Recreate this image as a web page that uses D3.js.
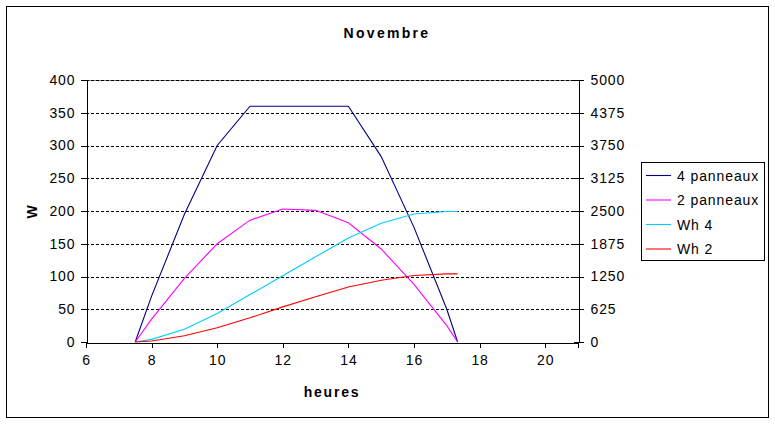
<!DOCTYPE html>
<html>
<head>
<meta charset="utf-8">
<script src="https://cdn.jsdelivr.net/npm/d3@7"></script>
<style>
  body { margin: 0; background: #fff; }
  svg text { font-family: "Liberation Sans", Arial, sans-serif; fill: #000; }
  .tick text { font-size: 14px; letter-spacing: 0.9px; }
  .bold { font-weight: bold; font-size: 14px; }
</style>
</head>
<body>
<svg id="chart" width="775" height="424"></svg>
<script>
// heures et valeurs
const heures     = [7.5, 8, 9, 10, 11, 12, 13, 14, 15, 16, 17, 17.33]
const panneaux4  = [0, 70, 195, 300, 360, 360, 360, 360, 283, 175, 50, 0]
const panneaux2  = [0, 35, 97, 150, 186, 203, 201, 182, 142, 88, 25, 0]
const wh4        = [0, 50, 245, 545, 905, 1265, 1625, 1985, 2268, 2443, 2490, 2490]
const wh2        = [0, 20, 120, 272, 462, 670, 865, 1048, 1180, 1270, 1300, 1300]

const xTicks  = [6, 8, 10, 12, 14, 16, 18, 20]
const yTicks  = [0, 50, 100, 150, 200, 250, 300, 350, 400]
const y2Ticks = [0, 625, 1250, 1875, 2500, 3125, 3750, 4375, 5000]

const seriesNames = ["4 panneaux", "2 panneaux", "Wh 4", "Wh 2"]
const seriesColors = ["#000080", "#FF00FF", "#00CCFF", "#FF0000"]

let svg = d3.select("#chart")

// cadre exterieur
svg.append("rect")
    .attr("x", 6.5).attr("y", 6.5)
    .attr("width", 762).attr("height", 411)
    .attr("fill", "#fff").attr("stroke", "#000")

let xScale  = d3.scaleLinear().domain([6, 21]).range([86, 578])
let yScale  = d3.scaleLinear().domain([0, 400]).range([342, 80])
let y2Scale = d3.scaleLinear().domain([0, 5000]).range([342, 80])

// bord superieur de la zone de trace
svg.append("line")
    .attr("x1", 86).attr("x2", 578)
    .attr("y1", yScale(400) + 0.5).attr("y2", yScale(400) + 0.5)
    .attr("stroke", "#808080")

// grille pointillee
svg.append("g").selectAll("line")
    .data(yTicks.filter(d => d > 0))
    .enter().append("line")
    .attr("x1", 86).attr("x2", 578)
    .attr("y1", d => Math.round(yScale(d)) + 0.5)
    .attr("y2", d => Math.round(yScale(d)) + 0.5)
    .attr("stroke", "#000")
    .attr("stroke-dasharray", "3,2")
    .attr("shape-rendering", "crispEdges")

// courbes
const allSeries = [
    { values: panneaux4, scale: yScale },
    { values: panneaux2, scale: yScale },
    { values: wh4, scale: y2Scale },
    { values: wh2, scale: y2Scale }
]

allSeries.forEach(function (s, k) {
    let line = d3.line()
        .x((d, i) => xScale(heures[i]))
        .y(d => s.scale(d))
    svg.append("path")
        .datum(s.values)
        .attr("d", line)
        .attr("fill", "none")
        .attr("stroke", seriesColors[k])
        .attr("stroke-width", 1.1)
})

// axes
let x_axis = d3.axisBottom(xScale).tickValues(xTicks).tickSizeOuter(0).tickSize(5).tickPadding(4)
let y_axis = d3.axisLeft(yScale).tickValues(yTicks).tickSizeOuter(0).tickSize(6).tickPadding(5)
let y2_axis = d3.axisRight(y2Scale).tickValues(y2Ticks).tickFormat(d3.format("d"))
    .tickSizeOuter(0).tickSize(5).tickPadding(7)

let gx = svg.append("g")
    .attr("transform", `translate(0,${342.5})`)
    .call(x_axis)
let gy = svg.append("g")
    .attr("transform", `translate(${86.5},0)`)
    .call(y_axis)
let gy2 = svg.append("g")
    .attr("transform", `translate(${578.5},0)`)
    .call(y2_axis)
gy2.selectAll(".tick line").attr("x1", -5)

;[gx, gy, gy2].forEach(function (g) {
    g.selectAll("path, line").attr("stroke", "#000").attr("shape-rendering", "crispEdges")
    g.selectAll("text").attr("font-family", null).attr("font-size", null)
})
gx.selectAll(".tick text").attr("dy", "0.95em")

// titres
svg.append("text")
    .attr("class", "bold")
    .attr("x", 387).attr("y", 38)
    .attr("text-anchor", "middle")
    .style("letter-spacing", "2.3px")
    .text("Novembre")

svg.append("text")
    .attr("class", "bold")
    .attr("x", 332).attr("y", 397)
    .attr("text-anchor", "middle")
    .style("letter-spacing", "1.8px")
    .text("heures")

svg.append("g")
    .attr("transform", `translate(${37},${212}) rotate(-90)`)
    .append("text")
    .attr("class", "bold")
    .attr("text-anchor", "middle")
    .text("W")

// legende
let legend = svg.append("g")
legend.append("rect")
    .attr("x", 641.5).attr("y", 162.5)
    .attr("width", 123).attr("height", 98)
    .attr("fill", "#fff").attr("stroke", "#000")

let items = legend.selectAll(".item")
    .data(seriesNames)
    .enter().append("g")
    .attr("transform", (d, i) => `translate(0,${175.5 + i * 24.5})`)

items.append("line")
    .attr("x1", 646).attr("x2", 671)
    .attr("stroke", (d, i) => seriesColors[i])
    .attr("stroke-width", 1.1)

items.append("text")
    .attr("x", 677).attr("y", 5)
    .style("font-size", "14px")
    .style("letter-spacing", "0.9px")
    .text(d => d)
</script>
</body>
</html>
